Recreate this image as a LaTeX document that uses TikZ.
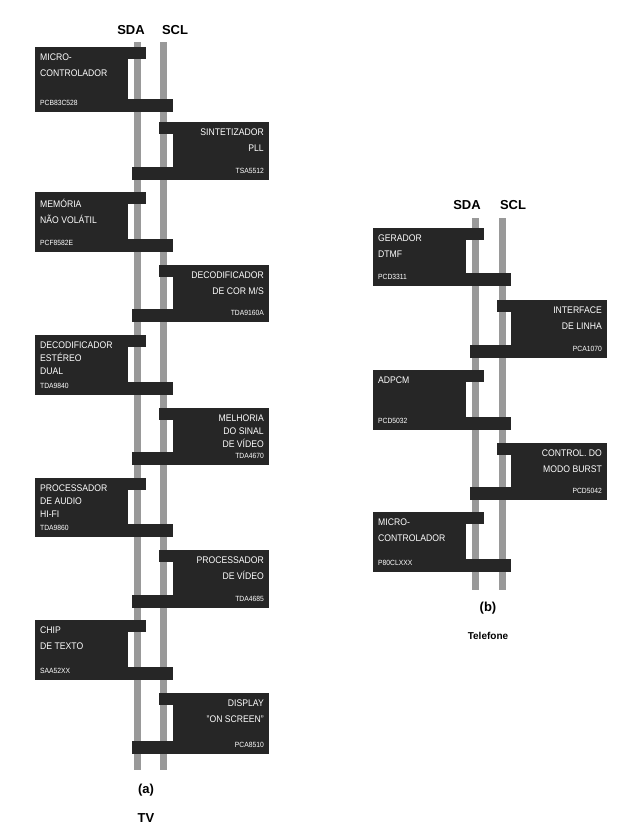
\documentclass[tikz,border=0pt]{standalone}
\usepackage{fontspec}
\setmainfont{Liberation Sans}
\begin{document}
\begin{tikzpicture}[x=1pt,y=-1pt,
  busline/.style={draw=black!40,line width=7pt},
  blk/.style={fill=black!85},
  boxtxt/.style={text=white,font=\fontsize{9.6}{16}\selectfont\addfontfeature{FakeStretch=0.9},inner sep=0pt},
  parttxt/.style={text=white,font=\fontsize{7.5}{9}\selectfont\addfontfeature{FakeStretch=0.9},inner sep=0pt},
  lbl/.style={font=\fontsize{13}{15}\selectfont\bfseries}]
\useasboundingbox (0,0) rectangle (625,838);
\newcommand\LBlk[6]{%
  \fill[blk] (#1-102,#2) rectangle (#1-7,#3);
  \fill[blk] (#1-9,#2) rectangle (#1+9,#2+12);
  \fill[blk] (#1-9,#3-13) rectangle (#1+36,#3);
  \fill[white] (#1-9,#2+12) rectangle (#1-6,#3-13);
  \node[boxtxt,anchor=north west,align=left] (#4a) at (#1-97,#2+7) {#5};
  \node[parttxt,anchor=south west] (#4b) at (#1-97,#3-6) {#6};}
\newcommand\RBlk[6]{%
  \fill[blk] (#1+33,#2) rectangle (#1+132,#3);
  \fill[blk] (#1+22,#2) rectangle (#1+40,#2+12);
  \fill[blk] (#1-5,#3-13) rectangle (#1+40,#3);
  \fill[white] (#1+33,#2+12) rectangle (#1+36,#3-13);
  \node[boxtxt,anchor=north east,align=right] (#4a) at (#1+127,#2+7) {#5};
  \node[parttxt,anchor=south east] (#4b) at (#1+127,#3-6) {#6};}
% ---- TV ----
\draw[busline] (137,42) -- (137,770);
\draw[busline] (163,42) -- (163,770);
\node[lbl] (sda1) at (131,30) {SDA};
\node[lbl] (scl1) at (175,30) {SCL};
\LBlk{137}{47}{112}{m1}{MICRO-\\CONTROLADOR}{PCB83C528}
\RBlk{137}{122}{180}{m2}{SINTETIZADOR\\PLL}{TSA5512}
\LBlk{137}{192}{252}{m3}{MEMÓRIA\\NÃO VOLÁTIL}{PCF8582E}
\RBlk{137}{265}{322}{m4}{DECODIFICADOR\\DE COR M/S}{TDA9160A}
\LBlk{137}{335}{395}{m5}{DECODIFICADOR\\[-3pt]ESTÉREO\\[-3pt]DUAL}{TDA9840}
\RBlk{137}{408}{465}{m6}{MELHORIA\\[-3pt]DO SINAL\\[-3pt]DE VÍDEO}{TDA4670}
\LBlk{137}{478}{537}{m7}{PROCESSADOR\\[-3pt]DE AUDIO\\[-3pt]HI-FI}{TDA9860}
\RBlk{137}{550}{608}{m8}{PROCESSADOR\\DE VÍDEO}{TDA4685}
\LBlk{137}{620}{680}{m9}{CHIP\\DE TEXTO}{SAA52XX}
\RBlk{137}{693}{754}{m10}{DISPLAY\\"ON SCREEN"}{PCA8510}
\node[lbl] (ta) at (146,790) {(a)};
\node[lbl] (tv) at (146,818) {TV};
% ---- Telefone ----
\draw[busline] (475,218) -- (475,590);
\draw[busline] (502,218) -- (502,590);
\node[lbl] (sda2) at (467,205) {SDA};
\node[lbl] (scl2) at (513,205) {SCL};
\LBlk{475}{228}{286}{t1}{GERADOR\\DTMF}{PCD3311}
\RBlk{475}{300}{358}{t2}{INTERFACE\\DE LINHA}{PCA1070}
\LBlk{475}{370}{430}{t3}{ADPCM}{PCD5032}
\RBlk{475}{443}{500}{t4}{CONTROL. DO\\MODO BURST}{PCD5042}
\LBlk{475}{512}{572}{t5}{MICRO-\\CONTROLADOR}{P80CLXXX}
\node[lbl] (tb) at (488,608) {(b)};
\node[lbl,font=\fontsize{10}{12}\selectfont\bfseries] (tel) at (488,636) {Telefone};
\end{tikzpicture}
\end{document}
